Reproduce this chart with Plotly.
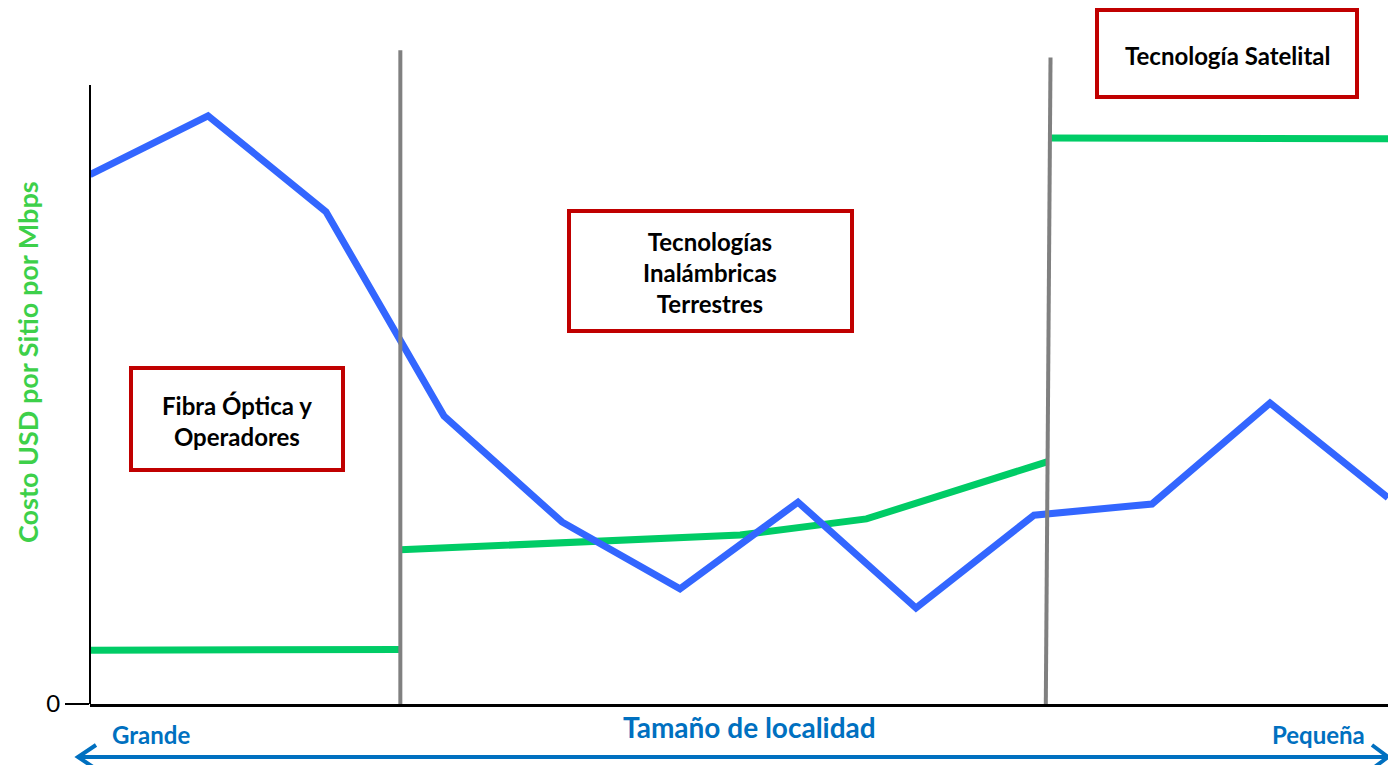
import plotly.graph_objects as go

# Locality size index (0 = large, 11 = small)
idx = list(range(12))

# Cost per site per Mbps, blue series
blue_vals = [85.5, 95.0, 79.5, 46.5, 29.4, 18.6, 32.6, 15.5, 30.5, 32.3, 48.6, 33.3]

# Green series, one segment per technology zone
green_fibra_x = [0, 2.63]
green_fibra_y = [8.7, 8.8]
green_inal_x = [2.63, 5.51, 6.58, 8.11]
green_inal_y = [24.9, 27.3, 29.9, 39.1]
green_sat_x = [8.14, 11]
green_sat_y = [91.4, 91.3]

# Zone dividers
div1_x = [2.63, 2.63]
div1_y = [0, 105.6]
div2_x = [8.10, 8.14]
div2_y = [0, 104.4]

zone_labels = ["Fibra Óptica y<br>Operadores",
               "Tecnologías<br>Inalámbricas<br>Terrestres",
               "Tecnología Satelital"]

W, H = 1388, 765
L, R, T, B = 90, 0, 0, 61
PW, PH = W - L - R, H - T - B


def px(x):
    return (x - L) / PW


def py(y):
    return (H - B - y) / PH


BLUE = "#3366FF"
GREEN = "#00CC66"
GRAY = "#808080"
RED = "#C00000"
TXTBLUE = "#0070C0"
FONT = "Lato"

fig = go.Figure()
fig.add_trace(go.Scatter(x=green_fibra_x, y=green_fibra_y, mode="lines",
                         line=dict(color=GREEN, width=7), hoverinfo="skip"))
fig.add_trace(go.Scatter(x=green_inal_x, y=green_inal_y, mode="lines",
                         line=dict(color=GREEN, width=7), hoverinfo="skip"))
fig.add_trace(go.Scatter(x=green_sat_x, y=green_sat_y, mode="lines",
                         line=dict(color=GREEN, width=7), hoverinfo="skip"))
fig.add_trace(go.Scatter(x=idx, y=blue_vals, mode="lines",
                         line=dict(color=BLUE, width=7), hoverinfo="skip"))
fig.add_trace(go.Scatter(x=div1_x, y=div1_y, mode="lines",
                         line=dict(color=GRAY, width=4), hoverinfo="skip"))
fig.add_trace(go.Scatter(x=div2_x, y=div2_y, mode="lines",
                         line=dict(color=GRAY, width=4), hoverinfo="skip"))

shapes = []
# vertical axis line (shorter than plot area)
shapes.append(dict(type="line", xref="paper", yref="paper",
                   x0=0, x1=0, y0=0, y1=py(85),
                   line=dict(color="black", width=2)))

# labelled zone boxes
boxes = [(131, 368, 343, 470), (569, 211, 852, 331), (1097, 10, 1357, 97)]
for (x0, y0, x1, y1) in boxes:
    shapes.append(dict(type="rect", xref="paper", yref="paper",
                       x0=px(x0), x1=px(x1), y0=py(y1), y1=py(y0),
                       fillcolor="white", line=dict(color=RED, width=4),
                       layer="above"))

# double-headed arrow under the x axis
ay = 757
shapes.append(dict(type="line", xref="paper", yref="paper",
                   x0=px(78), x1=px(1386), y0=py(ay), y1=py(ay),
                   line=dict(color=TXTBLUE, width=4)))
shapes.append(dict(type="path", xref="paper", yref="paper",
                   path=f"M {px(96)} {py(ay - 12)} L {px(78)} {py(ay)} L {px(96)} {py(ay + 12)}",
                   line=dict(color=TXTBLUE, width=4)))
shapes.append(dict(type="path", xref="paper", yref="paper",
                   path=f"M {px(1372)} {py(ay - 12)} L {px(1388)} {py(ay)} L {px(1372)} {py(ay + 12)}",
                   line=dict(color=TXTBLUE, width=4)))


def label(cx, cy, text, size, color, angle=0):
    return dict(xref="paper", yref="paper", x=px(cx), y=py(cy),
                text=f"<b>{text}</b>", showarrow=False, textangle=angle,
                xanchor="center", yanchor="middle",
                font=dict(family=FONT, size=size, color=color))


annotations = []
centers = [(237, 421), (710, 272), (1227, 55)]
for (cx, cy), txt in zip(centers, zone_labels):
    annotations.append(label(cx, cy, txt, 24, "black"))

annotations.append(label(27, 362, "Costo USD por Sitio por Mbps", 27, "#3DD04A", -90))
annotations.append(label(151, 734, "Grande", 24, TXTBLUE))
annotations.append(label(749, 727, "Tamaño de localidad", 28, TXTBLUE))
annotations.append(label(1318, 734, "Pequeña", 24, TXTBLUE))

fig.update_layout(
    width=W, height=H,
    margin=dict(l=L, r=R, t=T, b=B, pad=0),
    paper_bgcolor="white", plot_bgcolor="white",
    showlegend=False,
    shapes=shapes, annotations=annotations,
    xaxis=dict(range=[0, 11], showgrid=False, zeroline=False,
               showline=True, linecolor="black", linewidth=3,
               showticklabels=False, ticks="", fixedrange=True),
    yaxis=dict(range=[0, 113.7], showgrid=False, zeroline=False,
               showline=False, tickvals=[0], ticktext=["0"],
               ticks="outside", ticklen=24, tickwidth=2, tickcolor="black",
               tickfont=dict(family=FONT, size=24, color="black"),
               fixedrange=True),
)

fig.write_html("out.html", config={"displayModeBar": False})
